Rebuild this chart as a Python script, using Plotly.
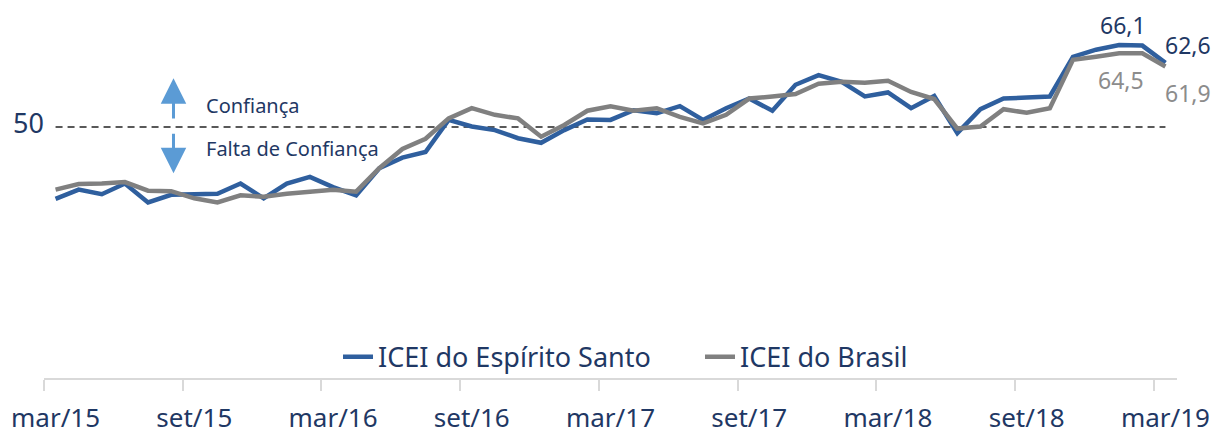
import plotly.graph_objects as go

months_pt = ["jan", "fev", "mar", "abr", "mai", "jun", "jul", "ago", "set", "out", "nov", "dez"]
periods = []
for k in range(49):
    m = (2 + k) % 12
    yr = 15 + (2 + k) // 12
    periods.append(f"{months_pt[m]}/{yr}")

icei_es = [35.9, 37.7, 36.8, 38.9, 35.2, 36.7, 36.8, 36.9, 38.9, 36.0,
           38.9, 40.2, 38.2, 36.6, 41.9, 44.0, 45.1, 51.4, 50.1, 49.4,
           47.8, 46.9, 49.4, 51.5, 51.4, 53.3, 52.7, 54.1, 51.4, 53.7,
           55.6, 53.2, 58.3, 60.2, 58.9, 56.0, 56.8, 53.7, 56.1, 48.8,
           53.5, 55.6, 55.8, 56.0, 63.8, 65.2, 66.1, 66.0, 62.6]
icei_br = [37.7, 38.8, 38.9, 39.2, 37.5, 37.4, 36.0, 35.2, 36.6, 36.3,
           36.9, 37.4, 37.7, 37.3, 41.9, 45.7, 47.7, 51.7, 53.7, 52.4,
           51.7, 48.1, 50.4, 53.2, 54.1, 53.2, 53.7, 52.0, 50.7, 52.4,
           55.6, 56.0, 56.5, 58.5, 58.9, 58.7, 59.1, 56.9, 55.5, 49.7,
           50.1, 53.5, 52.8, 53.7, 63.2, 63.8, 64.5, 64.5, 61.9]
threshold = 50
tick_idx = list(range(0, 49, 6))

x = list(range(len(periods)))
NAVY = "#1F3864"
BLUE = "#2F5F9E"
GRAY = "#808080"
FONT = "Noto Sans"

def fmt(v):
    return f"{v:.1f}".replace(".", ",")

fig = go.Figure()
fig.add_trace(go.Scatter(x=[x[0], x[-1]], y=[threshold, threshold], mode="lines",
                         line=dict(color="#595959", width=2, dash="7px,5px"),
                         showlegend=False, hoverinfo="skip"))
fig.add_trace(go.Scatter(x=x, y=icei_es, mode="lines", name="ICEI do Espírito Santo",
                         line=dict(color=BLUE, width=4.5), text=periods))
fig.add_trace(go.Scatter(x=x, y=icei_br, mode="lines", name="ICEI do Brasil",
                         line=dict(color=GRAY, width=4.5), text=periods))

ann = []
ann.append(dict(xref="paper", x=0, y=threshold, xanchor="right", yanchor="middle",
                text=str(threshold), showarrow=False, yshift=5, xshift=2,
                font=dict(size=27, color=NAVY, family=FONT)))
# arrows
ann.append(dict(x=5.1, y=59.6, ax=5.1, ay=51.4, axref="x", ayref="y", text="",
                showarrow=True, arrowhead=2, arrowsize=1.7, arrowwidth=3, arrowcolor="#5B9BD5"))
ann.append(dict(x=5.1, y=40.9, ax=5.1, ay=49.0, axref="x", ayref="y", text="",
                showarrow=True, arrowhead=2, arrowsize=1.7, arrowwidth=3, arrowcolor="#5B9BD5"))
ann.append(dict(x=6.4, y=54.3, xanchor="left", yanchor="middle", text="Confiança",
                showarrow=False, font=dict(size=20, color=NAVY, family=FONT)))
ann.append(dict(x=6.4, y=45.7, xanchor="left", yanchor="middle", text="Falta de Confiança",
                showarrow=False, font=dict(size=20, color=NAVY, family=FONT)))
# value labels
ann.append(dict(x=46, y=icei_es[46], text=fmt(icei_es[46]), showarrow=False, yshift=20, xshift=4,
                font=dict(size=23, color=NAVY, family=FONT), borderpad=0))
ann.append(dict(x=48, y=icei_es[48], text=fmt(icei_es[48]), showarrow=False, xanchor="left",
                xshift=-2, yshift=18, font=dict(size=23, color=NAVY, family=FONT)))
ann.append(dict(x=46, y=icei_br[46], text=fmt(icei_br[46]), showarrow=False, yshift=-27, xshift=2,
                font=dict(size=23, color="#8C8C8C", family=FONT)))
ann.append(dict(x=48, y=icei_br[48], text=fmt(icei_br[48]), showarrow=False, xanchor="left",
                xshift=-2, yshift=-27, font=dict(size=23, color="#8C8C8C", family=FONT)))

# the page body has an 8px default margin, so the figure is sized/offset to fit the window
fig.update_layout(
    width=1211, height=427,
    margin=dict(l=36, r=42, t=4, b=57),
    paper_bgcolor="white", plot_bgcolor="white",
    font=dict(family=FONT, color=NAVY),
    annotations=ann,
    legend=dict(orientation="h", x=0.579, xanchor="center", y=0.057, yanchor="middle",
                font=dict(size=27, color=NAVY, family=FONT), bgcolor="rgba(0,0,0,0)",
                entrywidth=317, entrywidthmode="pixels"),
    xaxis=dict(range=[-0.5, 48.5], showgrid=False, zeroline=False, automargin=False,
               showline=True, linecolor="#D9D9D9", linewidth=1.5,
               tickmode="array", tickvals=tick_idx, ticktext=[periods[i] for i in tick_idx],
               ticks="", tickfont=dict(size=26, color=NAVY, family=FONT),
               ticklabelstandoff=16,
               minor=dict(tickmode="array", tickvals=[i - 0.5 for i in tick_idx],
                          ticks="outside", ticklen=11, tickwidth=1.5, tickcolor="#D9D9D9",
                          showgrid=False)),
    yaxis=dict(range=[0.7, 72.6], visible=False, automargin=False),
)

fig.write_html("out.html")
